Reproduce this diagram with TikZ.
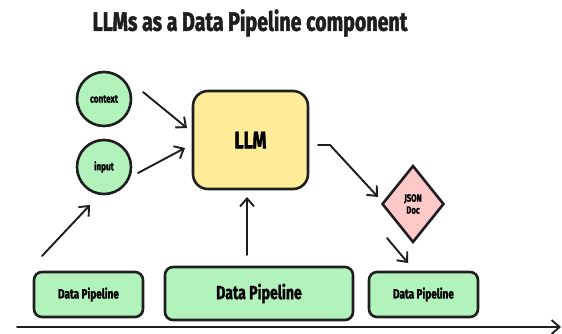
\documentclass[tikz,border=0pt]{standalone}
\usepackage{fontspec}
\setmainfont{Fira Sans}
\newfontfamily\cond[FakeStretch=0.74,BoldFont={Fira Sans Bold},BoldFeatures={FakeBold=1.6}]{Fira Sans}
\usetikzlibrary{arrows.meta,shapes.geometric}
\definecolor{ink}{HTML}{1E1E1E}
\definecolor{gfill}{HTML}{B2F2BB}
\definecolor{yfill}{HTML}{FFEC99}
\definecolor{pfill}{HTML}{FFC9C9}
\tikzset{
  stroke/.style={draw=ink,line width=2.6pt},
  circ/.style={stroke,circle,fill=gfill,minimum size=54pt,inner sep=0pt,font=\cond\bfseries\fontsize{11}{12}\selectfont},
  pipe/.style={stroke,rounded corners=8pt,fill=gfill,inner sep=0pt,font=\cond\bfseries},
  conn/.style={draw=ink,line width=1.9pt,-{Straight Barb[length=8pt,width=14pt,line width=1.9pt]},line cap=round,line join=round},
}
\begin{document}
\begin{tikzpicture}[x=1pt,y=-1pt]
\useasboundingbox (0,0) rectangle (562,333);
\fill[white] (0,0) rectangle (562,333);
\node[font=\cond\bfseries\fontsize{26.5}{28}\selectfont,text=ink] (title) at (250,23) {LLMs as a Data Pipeline component};
\node[circ] (ctx) at (104,99) {context};
\node[circ] (inp) at (104,167) {input};
\node[stroke,rounded corners=15pt,fill=yfill,minimum width=115pt,minimum height=98pt,font=\cond\bfseries\fontsize{24}{26}\selectfont] (llm) at (250.5,140) {LLM};
\node[stroke,diamond,fill=pfill,minimum width=62pt,minimum height=77pt,inner sep=0pt,align=center,font=\cond\bfseries\fontsize{10.5}{12}\selectfont] (json) at (413,204) {JSON\\Doc};
\node[pipe,minimum width=109pt,minimum height=45pt,font=\cond\bfseries\fontsize{13.5}{15}\selectfont] (dp1) at (88.5,294.5) {Data Pipeline};
\node[pipe,minimum width=188pt,minimum height=53pt,font=\cond\bfseries\fontsize{19}{21}\selectfont] (dp2) at (259,293.5) {Data Pipeline};
\node[pipe,minimum width=109pt,minimum height=45pt,font=\cond\bfseries\fontsize{13.5}{15}\selectfont] (dp3) at (423.5,294.5) {Data Pipeline};
\coordinate (axs) at (17,327);
\coordinate (axe) at (561,327);
\draw[conn] (axs) -- (axe);
\coordinate (c1) at (143,92);
\coordinate (c2) at (187,128);
\draw[conn] (c1) -- (c2);
\coordinate (i1) at (138,173);
\coordinate (i2) at (185,148);
\draw[conn] (i1) -- (i2);
\coordinate (l1) at (318,145);
\coordinate (l2) at (330,145);
\coordinate (l3) at (378,197);
\draw[conn] (l1) -- (l2) -- (l3);
\coordinate (p1) at (42,256);
\coordinate (p2) at (90,205);
\draw[conn] (p1) -- (p2);
\coordinate (m1) at (247,255);
\coordinate (m2) at (247,197);
\draw[conn] (m1) -- (m2);
\coordinate (j1) at (387,238);
\coordinate (j2) at (408,263);
\draw[conn] (j1) -- (j2);
\end{tikzpicture}
\end{document}
